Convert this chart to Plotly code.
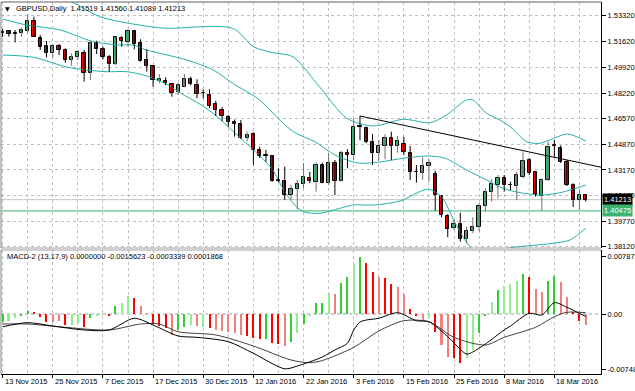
import plotly.graph_objects as go

# ---------------- data ----------------
date_idx = [0, 8, 16, 24, 32, 40, 48, 56, 64, 72, 80, 88]
date_labels = ["13 Nov 2015", "25 Nov 2015", "7 Dec 2015", "17 Dec 2015", "30 Dec 2015",
               "12 Jan 2016", "22 Jan 2016", "3 Feb 2016", "15 Feb 2016", "25 Feb 2016",
               "8 Mar 2016", "18 Mar 2016"]

opens = [1.52247, 1.52293, 1.52214, 1.52162, 1.52333, 1.52971, 1.51872, 1.51326, 1.50846, 1.51326,
         1.51063, 1.50405, 1.50583, 1.50885, 1.49530, 1.51504, 1.51129, 1.50583, 1.50122, 1.51833,
         1.51609, 1.52313, 1.51543, 1.50405, 1.50010, 1.49003, 1.49043, 1.48826, 1.48299, 1.48648,
         1.49155, 1.48760, 1.48234, 1.48102, 1.47510, 1.47115, 1.46674, 1.46345, 1.46194, 1.45253,
         1.45516, 1.44483, 1.44134, 1.44108, 1.42476, 1.42410, 1.41489, 1.41897, 1.42246, 1.42660,
         1.42397, 1.43496, 1.42331, 1.43608, 1.42463, 1.44305, 1.44121, 1.46029, 1.45911, 1.44990,
         1.44305, 1.44746, 1.45253, 1.44746, 1.44878, 1.44305, 1.43035, 1.42950, 1.43430, 1.42884,
         1.41476, 1.40140, 1.39331, 1.39594, 1.38607, 1.39153, 1.39436, 1.40798, 1.41739, 1.42180,
         1.42660, 1.42193, 1.42134, 1.42726, 1.43825, 1.43016, 1.41476, 1.42509, 1.44779, 1.44634,
         1.43674, 1.42180, 1.41193, 1.41519]
highs = [1.52445, 1.52379, 1.52379, 1.52543, 1.53432, 1.53254, 1.52050, 1.51655, 1.51458, 1.51458,
         1.51175, 1.50846, 1.51063, 1.51063, 1.51675, 1.51675, 1.51280, 1.50734, 1.51938, 1.51984,
         1.52425, 1.52379, 1.51767, 1.51109, 1.50076, 1.49484, 1.49267, 1.48911, 1.48872, 1.49484,
         1.49306, 1.49135, 1.48477, 1.48477, 1.47727, 1.47312, 1.46786, 1.46490, 1.46457, 1.45687,
         1.45648, 1.44700, 1.44483, 1.44154, 1.43279, 1.43384, 1.42180, 1.42509, 1.43628, 1.43055,
         1.43674, 1.43647, 1.44266, 1.43825, 1.44437, 1.44529, 1.46569, 1.46720, 1.46016, 1.45536,
         1.45141, 1.45516, 1.45687, 1.45404, 1.45358, 1.44746, 1.43496, 1.44003, 1.43871, 1.43121,
         1.41522, 1.40272, 1.39877, 1.40357, 1.39436, 1.40055, 1.40976, 1.41963, 1.42555, 1.42838,
         1.42838, 1.42397, 1.43055, 1.44371, 1.43937, 1.43055, 1.42621, 1.45029, 1.45141, 1.44779,
         1.43825, 1.42292, 1.41851, 1.41560]
lows = [1.51918, 1.51938, 1.51570, 1.51918, 1.52162, 1.51918, 1.51063, 1.50583, 1.50583, 1.50734,
        1.50227, 1.50030, 1.50405, 1.48977, 1.49089, 1.50800, 1.50451, 1.49635, 1.50076, 1.51280,
        1.51280, 1.51109, 1.50293, 1.49635, 1.48648, 1.48872, 1.48740, 1.47990, 1.48102, 1.48609,
        1.48740, 1.47885, 1.47885, 1.47227, 1.46720, 1.46391, 1.46016, 1.45358, 1.45207, 1.45029,
        1.43496, 1.43957, 1.43713, 1.42397, 1.42377, 1.41193, 1.41193, 1.40581, 1.41963, 1.42292,
        1.41739, 1.42292, 1.42180, 1.41522, 1.42397, 1.43279, 1.43825, 1.45141, 1.44924, 1.43496,
        1.43779, 1.43871, 1.43825, 1.44305, 1.44154, 1.42509, 1.42331, 1.42509, 1.42397, 1.40489,
        1.40055, 1.38739, 1.39219, 1.38449, 1.38344, 1.39002, 1.39107, 1.40423, 1.41081, 1.41305,
        1.41739, 1.41851, 1.41193, 1.42621, 1.42838, 1.41410, 1.40469, 1.42443, 1.44022, 1.43628,
        1.42114, 1.40732, 1.40535, 1.41089]
closes = [1.52208, 1.52096, 1.52129, 1.52379, 1.52971, 1.51938, 1.51241, 1.50846, 1.51326, 1.51063,
          1.50405, 1.50622, 1.50912, 1.49530, 1.51504, 1.51109, 1.50583, 1.50142, 1.51899, 1.51675,
          1.52333, 1.51458, 1.50359, 1.50010, 1.49089, 1.49175, 1.48911, 1.48253, 1.48740, 1.49135,
          1.48806, 1.48148, 1.48201, 1.47378, 1.47115, 1.46720, 1.46306, 1.46194, 1.45253, 1.45470,
          1.44483, 1.44088, 1.44101, 1.42463, 1.42443, 1.41522, 1.41897, 1.42213, 1.42726, 1.42443,
          1.43463, 1.42331, 1.43608, 1.42463, 1.44305, 1.44121, 1.46016, 1.45996, 1.45029, 1.44305,
          1.44746, 1.45253, 1.44746, 1.45075, 1.44371, 1.43055, 1.43003, 1.43411, 1.43608, 1.41522,
          1.40206, 1.39265, 1.39594, 1.38607, 1.39153, 1.39436, 1.40798, 1.41739, 1.42246, 1.42660,
          1.42180, 1.42160, 1.42838, 1.43759, 1.42950, 1.41489, 1.42509, 1.44700, 1.44746, 1.43713,
          1.42180, 1.41193, 1.41522, 1.41213]

# Bollinger bands (read at sample bar positions)
bb_up_x = [0, 11, 15.5, 23.5, 26.2, 36.7, 40, 43.1, 46.3, 50.6, 54.9, 59.1, 63.9, 68.2, 70.8,
           74, 75, 77.2, 79.3, 81, 83.6, 85.7, 87.9, 90.1, 93]
bb_up = [1.55340, 1.54221, 1.53254, 1.52596, 1.52491, 1.52491, 1.51280, 1.50885, 1.50622, 1.48609,
         1.46569, 1.46062, 1.46503, 1.46279, 1.46786, 1.47773, 1.47773, 1.46898, 1.46457, 1.45996,
         1.45029, 1.44924, 1.45253, 1.45536, 1.45075]
bb_mid_x = [0, 3.8, 9.2, 14.5, 18.7, 20.8, 23, 29.4, 33.6, 36.7, 41, 44.2, 46.6, 49.8, 53, 55.7,
            57, 60.2, 63.9, 67.8, 70.6, 74, 77.2, 79.3, 81.7, 86, 89.2, 93]
bb_mid = [1.53103, 1.52708, 1.52379, 1.51609, 1.51392, 1.51392, 1.51063, 1.50405, 1.49747, 1.48872,
          1.47773, 1.46457, 1.45621, 1.45029, 1.44154, 1.43713, 1.43608, 1.43693, 1.43937, 1.44088,
          1.43937, 1.43167, 1.42509, 1.42048, 1.41739, 1.41522, 1.41700, 1.42180]
bb_low_x = [0, 4.9, 10.2, 13.4, 16.6, 19.8, 23, 26.4, 28, 31.5, 33.9, 37.1, 40.3, 42.9, 45, 46.6,
            48, 50.6, 53.8, 55.9, 59.4, 63.4, 67.8, 70, 72.2, 74.3, 76.1, 78.3, 80.4, 87.8, 90.5, 93]
bb_low = [1.50734, 1.50583, 1.49944, 1.49747, 1.49635, 1.49635, 1.49352, 1.48760, 1.48319, 1.47490,
          1.46786, 1.45582, 1.44371, 1.43279, 1.41739, 1.40864, 1.40423, 1.40318, 1.40647, 1.40864,
          1.40864, 1.41127, 1.41897, 1.41410, 1.39660, 1.38232, 1.37574, 1.37771, 1.38015, 1.38344,
          1.38561, 1.39331]

trend_x = [57, 96]
trend_y = [1.4672, 1.4330]
bid_price = 1.41213
level_price = 1.40475

price_ticks = [1.53320, 1.51620, 1.49920, 1.48220, 1.46570, 1.44870, 1.43170, 1.41470, 1.39770, 1.38120]

# MACD-2 histogram (one per bar) and its colour class
hist = [-0.00105, -0.00091, -0.00058, -0.00027, 0.00045, 0.00027, -0.00037, -0.00105, -0.00105, -0.00095,
        -0.00149, -0.00149, -0.00118, -0.00181, -0.00058, -0.00014, -0.00004, -0.00018, 0.00109, 0.00145,
        0.00249, 0.00213, 0.00109, 0.00010, -0.00136, -0.00163, -0.00194, -0.00285, -0.00217, -0.00181,
        -0.00149, -0.00163, -0.00173, -0.00194, -0.00217, -0.00227, -0.00241, -0.00262, -0.00285, -0.00299,
        -0.00330, -0.00344, -0.00340, -0.00390, -0.00408, -0.00435, -0.00376, -0.00262, -0.00136, -0.00027,
        0.00145, 0.00154, 0.00289, 0.00272, 0.00425, 0.00499, 0.00680, 0.00775, 0.00697, 0.00575,
        0.00507, 0.00485, 0.00408, 0.00371, 0.00272, 0.00064, -0.00027, -0.00082, -0.00058, -0.00241,
        -0.00421, -0.00588, -0.00602, -0.00662, -0.00602, -0.00489, -0.00262, -0.00014, 0.00167, 0.00326,
        0.00381, 0.00404, 0.00453, 0.00544, 0.00507, 0.00340, 0.00303, 0.00448, 0.00521, 0.00435,
        0.00235, 0.00018, -0.00091, -0.0015623]
hist_tone = ['G', 'g', 'g', 'G', 'G', 'R', 'R', 'R', 'r', 'r',
             'R', 'g', 'g', 'R', 'G', 'g', 'g', 'R', 'G', 'g',
             'g', 'R', 'r', 'r', 'R', 'R', 'R', 'r', 'G', 'G',
             'g', 'r', 'g', 'R', 'r', 'r', 'r', 'r', 'r', 'R',
             'R', 'R', 'G', 'R', 'R', 'r', 'G', 'g', 'G', 'g',
             'G', 'G', 'g', 'r', 'G', 'G', 'g', 'G', 'R', 'R',
             'r', 'R', 'R', 'r', 'r', 'R', 'R', 'r', 'g', 'R',
             'r', 'r', 'R', 'R', 'g', 'g', 'G', 'G', 'g', 'G',
             'g', 'g', 'g', 'G', 'R', 'r', 'r', 'G', 'G', 'r',
             'r', 'R', 'R', 'r']

macd_x = [0, 4, 8, 13, 17, 21, 24, 28, 31, 36, 40, 45, 47, 51, 53, 55, 56, 57, 58, 60,
          63, 66, 68, 71, 74, 75, 77, 80, 81, 84, 86, 88, 90, 93]
macd_v = [-0.00173, -0.00118, -0.00163, -0.00217, -0.00217, -0.00058, -0.00149, -0.00299, -0.00317, -0.00376,
          -0.00534, -0.00745, -0.00707, -0.00584, -0.00489, -0.00398, -0.00217, -0.00109, -0.00082, -0.00058,
          0.00018, -0.00091, -0.00105, -0.00308, -0.00544, -0.00516, -0.00408, -0.00217, -0.00163, 0.00010,
          -0.00014, 0.00154, 0.00091, -0.000334]
sig_x = [0, 4, 10, 17, 22, 25, 28, 34, 40, 46, 49, 51, 56, 60, 64, 68, 72, 77, 80, 85, 88, 90, 93]
sig_v = [-0.00136, -0.00136, -0.00181, -0.00217, -0.00136, -0.00136, -0.00241, -0.00285, -0.00435, -0.00625,
         -0.00662, -0.00632, -0.00453, -0.00231, -0.00091, -0.00105, -0.00317, -0.00421, -0.00317, -0.00181,
         -0.00037, 0.00023, 0.000187]
macd_ticks = [0.007872, 0.0, -0.007480]
macd_ticktext = ["0.007872", "0.00", "-0.007480"]

title_text = "GBPUSD,Daily\u00a0\u00a01.41519 1.41560 1.41089 1.41213"
macd_label = "MACD-2 (13,17,9) 0.0000000 -0.0015623 -0.0003339 0.0001868"

# ---------------- styling ----------------
BULL = '#3CB371'
BEAR = '#FF0000'
BAND = '#20B2AA'
GRID = '#C0C0C0'
FONT = 'Liberation Sans, Arial, sans-serif'
TONES = {'G': '#32CD32', 'g': '#90EE90', 'R': '#FF0000', 'r': '#F08080'}
XR = [-0.255, 95.44]

n = len(opens)
idx = list(range(n))
bull = [i for i in idx if closes[i] > opens[i]]
bear = [i for i in idx if closes[i] <= opens[i]]

fig = go.Figure()

# Bollinger bands
for bx, by in ((bb_up_x, bb_up), (bb_mid_x, bb_mid), (bb_low_x, bb_low)):
    fig.add_trace(go.Scatter(x=bx, y=by, mode='lines', line=dict(color=BAND, width=1, shape='spline', smoothing=0.8),
                             xaxis='x', yaxis='y', hoverinfo='skip'))

# trend line
fig.add_trace(go.Scatter(x=trend_x, y=trend_y, mode='lines', line=dict(color='black', width=1),
                         xaxis='x', yaxis='y', hoverinfo='skip'))


def wicks(sel):
    xs, ys = [], []
    for i in sel:
        xs += [i, i, None]
        ys += [lows[i], highs[i], None]
    return xs, ys


wx, wy = wicks(bull)
fig.add_trace(go.Scatter(x=wx, y=wy, mode='lines', line=dict(color='#707070', width=1), xaxis='x', yaxis='y'))
wx, wy = wicks(bear)
fig.add_trace(go.Scatter(x=wx, y=wy, mode='lines', line=dict(color='black', width=1), xaxis='x', yaxis='y'))

fig.add_trace(go.Bar(x=bull, y=[closes[i] - opens[i] for i in bull], base=[opens[i] for i in bull],
                     width=0.52, marker=dict(color=BULL, line=dict(color='black', width=1)),
                     xaxis='x', yaxis='y'))
fig.add_trace(go.Bar(x=bear, y=[closes[i] - opens[i] for i in bear], base=[opens[i] for i in bear],
                     width=0.52, marker=dict(color=BEAR, line=dict(color='black', width=1)),
                     xaxis='x', yaxis='y'))

# MACD histogram
for tone, col in TONES.items():
    sel = [i for i in idx if hist_tone[i] == tone]
    fig.add_trace(go.Bar(x=sel, y=[hist[i] for i in sel], width=0.32,
                         marker=dict(color=col, line=dict(width=0)), xaxis='x2', yaxis='y2'))

fig.add_trace(go.Scatter(x=sig_x, y=sig_v, mode='lines', line=dict(color='#404040', width=1, shape='spline', smoothing=0.8),
                         xaxis='x2', yaxis='y2'))
fig.add_trace(go.Scatter(x=macd_x, y=macd_v, mode='lines', line=dict(color='black', width=1, shape='spline', smoothing=0.8),
                         xaxis='x2', yaxis='y2'))

TOP_D = [0.3387, 1.0]
BOT_D = [0.0, 0.3333]

xcommon = dict(range=XR, tickmode='linear', tick0=0, dtick=8, showgrid=True, gridcolor=GRID,
               griddash='3px,3px', gridwidth=1, zeroline=False, showticklabels=False,
               minor=dict(tickmode='linear', tick0=0, dtick=4, showgrid=True, gridcolor=GRID,
                          griddash='3px,3px', gridwidth=1))

fig.update_layout(
    width=635, height=391, margin=dict(l=1, r=34, t=2, b=17),
    paper_bgcolor='white', plot_bgcolor='white', showlegend=False,
    barmode='overlay', bargap=0, hovermode=False,
    font=dict(family=FONT, size=7.5, color='black'),
    xaxis=dict(domain=[0, 1], anchor='y', ticks='', showline=False, **xcommon),
    xaxis2=dict(domain=[0, 1], anchor='y2', matches='x', ticks='outside', ticklen=3, tickcolor='black',
                showline=True, linecolor='black', linewidth=1, **xcommon),
    yaxis=dict(domain=TOP_D, anchor='x', side='right', range=[1.38032, 1.54222], automargin=False,
               tickmode='array', tickvals=price_ticks, ticktext=["%.5f" % v for v in price_ticks],
               showgrid=True, gridcolor=GRID, griddash='3px,3px', gridwidth=1, zeroline=False,
               ticks='outside', ticklen=4, tickcolor='black', showline=True, linecolor='black', linewidth=1,
               tickfont=dict(family=FONT, size=7.5, color='black')),
    yaxis2=dict(domain=BOT_D, anchor='x2', side='right', range=[-0.008154, 0.008698], automargin=False,
                tickmode='array', tickvals=macd_ticks, ticktext=macd_ticktext,
                showgrid=False, zeroline=False, ticks='outside', ticklen=4, tickcolor='black',
                showline=True, linecolor='black', linewidth=1,
                tickfont=dict(family=FONT, size=7.5, color='black')),
)

shapes = [
    # panel frames
    dict(type='line', xref='paper', yref='paper', x0=0, x1=0, y0=TOP_D[0], y1=1, line=dict(color='#808080', width=1)),
    dict(type='line', xref='paper', yref='paper', x0=0, x1=0, y0=0, y1=BOT_D[1], line=dict(color='#808080', width=1)),
    dict(type='line', xref='paper', yref='paper', x0=0, x1=1, y0=1, y1=1, line=dict(color='#606060', width=1)),
    dict(type='line', xref='paper', yref='paper', x0=0, x1=1, y0=TOP_D[0], y1=TOP_D[0], line=dict(color='#A0A0A0', width=1)),
    dict(type='line', xref='paper', yref='paper', x0=0, x1=1, y0=BOT_D[1], y1=BOT_D[1], line=dict(color='#A0A0A0', width=1)),
    # bid line and support level
    dict(type='line', xref='paper', yref='y', x0=0, x1=1, y0=bid_price, y1=bid_price,
         line=dict(color='#C0C0C0', width=1), layer='below'),
    dict(type='line', xref='paper', yref='y', x0=0, x1=1, y0=level_price, y1=level_price,
         line=dict(color=BULL, width=1), layer='below'),
    # MACD zero level
    dict(type='line', xref='paper', yref='y2', x0=0, x1=1, y0=0, y1=0,
         line=dict(color='#A0A0A0', width=1, dash='3px,3px'), layer='below'),
]
fig.update_layout(shapes=shapes)

ann = []
ann.append(dict(text='▼', xref='paper', yref='paper', x=0.003, y=0.983, xanchor='left', yanchor='middle',
                showarrow=False, font=dict(family='DejaVu Sans', size=6, color='black')))
ann.append(dict(text=title_text, xref='paper', yref='paper', x=0.0217, y=0.983, xanchor='left', yanchor='middle',
                showarrow=False, font=dict(family=FONT, size=7.5, color='black')))
ann.append(dict(text=macd_label, xref='paper', yref='paper', x=0.0067, y=0.3153, xanchor='left', yanchor='middle',
                showarrow=False, font=dict(family=FONT, size=7.5, color='black')))
for xi, lab in zip(date_idx, date_labels):
    ann.append(dict(text=lab, xref='x2', yref='paper', x=xi, y=0, xanchor='left', yanchor='top', yshift=-1,
                    showarrow=False, font=dict(family=FONT, size=7.5, color='black')))
ann.append(dict(text="%.5f" % bid_price, xref='paper', yref='y', x=1, y=bid_price, xanchor='left', yanchor='middle',
                xshift=1, showarrow=False, bgcolor='black', borderpad=1,
                font=dict(family=FONT, size=7.5, color='white')))
ann.append(dict(text="%.5f" % level_price, xref='paper', yref='y', x=1, y=level_price, xanchor='left', yanchor='middle',
                xshift=1, showarrow=False, bgcolor=BULL, borderpad=1,
                font=dict(family=FONT, size=7.5, color='white')))
fig.update_layout(annotations=ann)

fig.write_html("out.html", config={'displayModeBar': False},
               post_script="document.body.style.margin='0';document.body.style.padding='0';")
